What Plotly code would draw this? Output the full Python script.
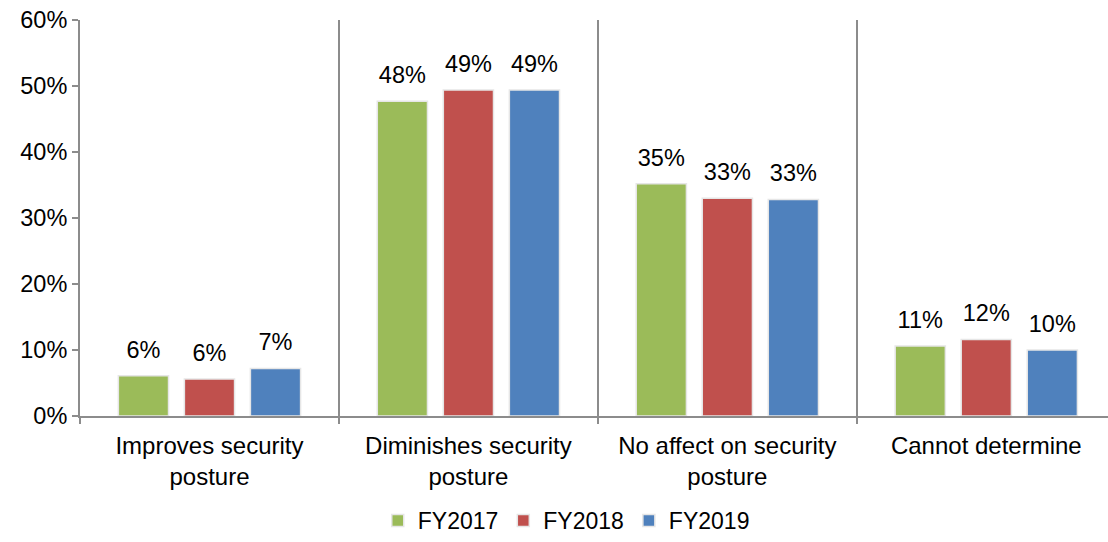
import plotly.graph_objects as go

categories = [
    "Improves security<br>posture",
    "Diminishes security<br>posture",
    "No affect on security<br>posture",
    "Cannot determine",
]
fy2017 = [6.1, 47.7, 35.2, 10.6]
fy2018 = [5.6, 49.4, 33.0, 11.6]
fy2019 = [7.2, 49.4, 32.8, 10.0]

series = [
    ("FY2017", fy2017, "#9BBB59"),
    ("FY2018", fy2018, "#C0504D"),
    ("FY2019", fy2019, "#4F81BD"),
]

AXIS_GREY = "#8C8C8C"
FONT = "Arial, Liberation Sans, sans-serif"

fig = go.Figure()
for name, vals, color in series:
    fig.add_trace(go.Bar(
        x=categories, y=vals, name=name, offsetgroup=name,
        marker=dict(color=color, line=dict(color="#E6E6E6", width=1.5)),
    ))
# data labels sit a bit higher above the bars than plotly's own outside text
for name, vals, color in series:
    fig.add_trace(go.Scatter(
        x=categories, y=vals, offsetgroup=name, mode="markers+text",
        text=[f"{v:.0f}%" for v in vals], textposition="top center",
        textfont=dict(size=23.5, color="#000000"),
        marker=dict(size=18, color="rgba(0,0,0,0)"),
        showlegend=False, hoverinfo="skip", cliponaxis=False,
    ))

fig.update_layout(
    width=1108, height=542,
    font=dict(family=FONT, size=24, color="#000000"),
    plot_bgcolor="white", paper_bgcolor="white",
    margin=dict(l=80, r=0, t=20, b=121),
    barmode="group", bargap=0.235, bargroupgap=0.24,
    scattermode="group",
    showlegend=True,
    legend=dict(orientation="h", x=0.473, xanchor="center", y=-0.21, yanchor="top",
                font=dict(size=23), traceorder="normal"),
)
fig.update_xaxes(
    range=[-0.5, 3.47], tickson="boundaries", automargin=False,
    showline=True, linecolor=AXIS_GREY, linewidth=2,
    ticks="outside", ticklen=6, tickcolor=AXIS_GREY, tickwidth=1.5,
    showgrid=True, gridcolor=AXIS_GREY, gridwidth=1.5,
    tickfont=dict(size=24), ticklabelstandoff=7,
)
fig.update_yaxes(
    range=[0, 60], dtick=10, ticksuffix="%", automargin=False,
    showline=True, linecolor=AXIS_GREY, linewidth=2,
    ticks="outside", ticklen=6, tickcolor=AXIS_GREY, tickwidth=1.5,
    showgrid=False, zeroline=False, ticklabeloverflow="allow",
    tickfont=dict(size=23.5),
)

# drop the default 8px body margin so the figure fills the window exactly
fig.write_html("out.html", config={"displayModeBar": False},
               post_script="document.body.style.margin = '0';")
